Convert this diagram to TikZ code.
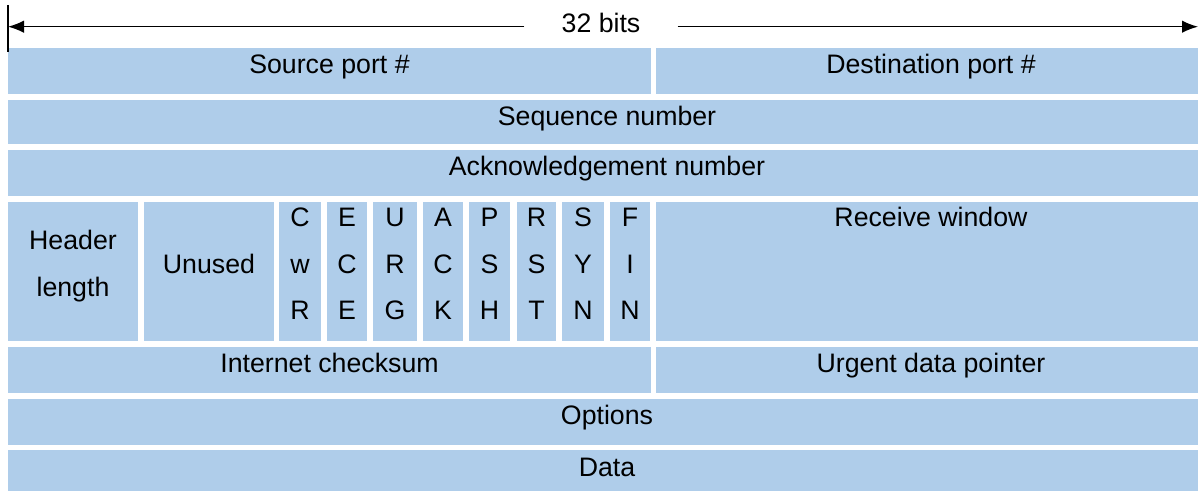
\documentclass[tikz,border=0pt]{standalone}
\usepackage{fontspec}
\setmainfont{Liberation Sans}
\usepackage{tikz}
\usetikzlibrary{arrows.meta}
\definecolor{field}{RGB}{175, 205, 234}

\begin{document}
\begin{tikzpicture}[x=0.025cm, y=-0.025cm,
    fieldtext/.style={anchor=base, inner sep=0, font=\fontsize{19}{23}\selectfont},
    bitarrow/.style={-{Latex[length=0.4cm, width=0.31cm]}, line width=0.9pt}]
  \useasboundingbox (0, 0) rectangle (1198, 491);

  % one row of 32 bits is 8 .. 1206
  \foreach \l/\r/\t/\b in {8/651/48/94, 656/1206/48/94, 8/1206/100/144.5, 8/1206/150/196, 8/138/202/341.5, 144/273.5/202/341.5, 656/1206/202/341.5, 8/651/347.5/393, 656/1206/347.5/393, 8/1206/399/445, 8/1206/450/497} {
    \fill[field] (\l, \t) rectangle (\r, \b);
  }

  \foreach \l/\r/\a/\b/\c in {279/321/C/w/R, 327/367/E/C/E, 373/417/U/R/G, 423/463/A/C/K, 469/510/P/S/H, 517/556/R/S/T, 562/604/S/Y/N, 610/650/F/I/N} {
    \fill[field] (\l, 202) rectangle (\r, 341.5);
    \node[fieldtext] (\a\b\c-1) at ({(\l + \r) / 2}, 227) {\a};
    \node[fieldtext] (\a\b\c-2) at ({(\l + \r) / 2}, 273.5) {\b};
    \node[fieldtext] (\a\b\c-3) at ({(\l + \r) / 2}, 320) {\c};
  }

  \node[fieldtext] (srcport) at (329.5, 74) {Source port \#};
  \node[fieldtext] (dstport) at (931, 74) {Destination port \#};
  \node[fieldtext] (seqnum) at (607, 126) {Sequence number};
  \node[fieldtext] (acknum) at (607, 176) {Acknowledgement number};
  \node[fieldtext] (hdrlen1) at (73, 250) {Header};
  \node[fieldtext] (hdrlen2) at (73, 297) {length};
  \node[fieldtext] (unused) at (209, 274) {Unused};
  \node[fieldtext] (rcvwin) at (931, 227) {Receive window};
  \node[fieldtext] (checksum) at (329.5, 373) {Internet checksum};
  \node[fieldtext] (urgptr) at (931, 373) {Urgent data pointer};
  \node[fieldtext] (options) at (607, 425) {Options};
  \node[fieldtext] (data) at (607, 476) {Data};

  % width arrow
  \node[fieldtext, inner xsep=0.925cm] (bits) at (601, 33) {32 bits};
  \coordinate (leftend) at (8, 26.7);
  \coordinate (rightend) at (1198, 26.7);
  \draw[bitarrow] (bits.west |- leftend) -- (leftend);
  \draw[bitarrow] (bits.east |- rightend) -- (rightend);
  \draw[line width=1.4pt] (8, 5) -- (8, 52);

\end{tikzpicture}
\end{document}
